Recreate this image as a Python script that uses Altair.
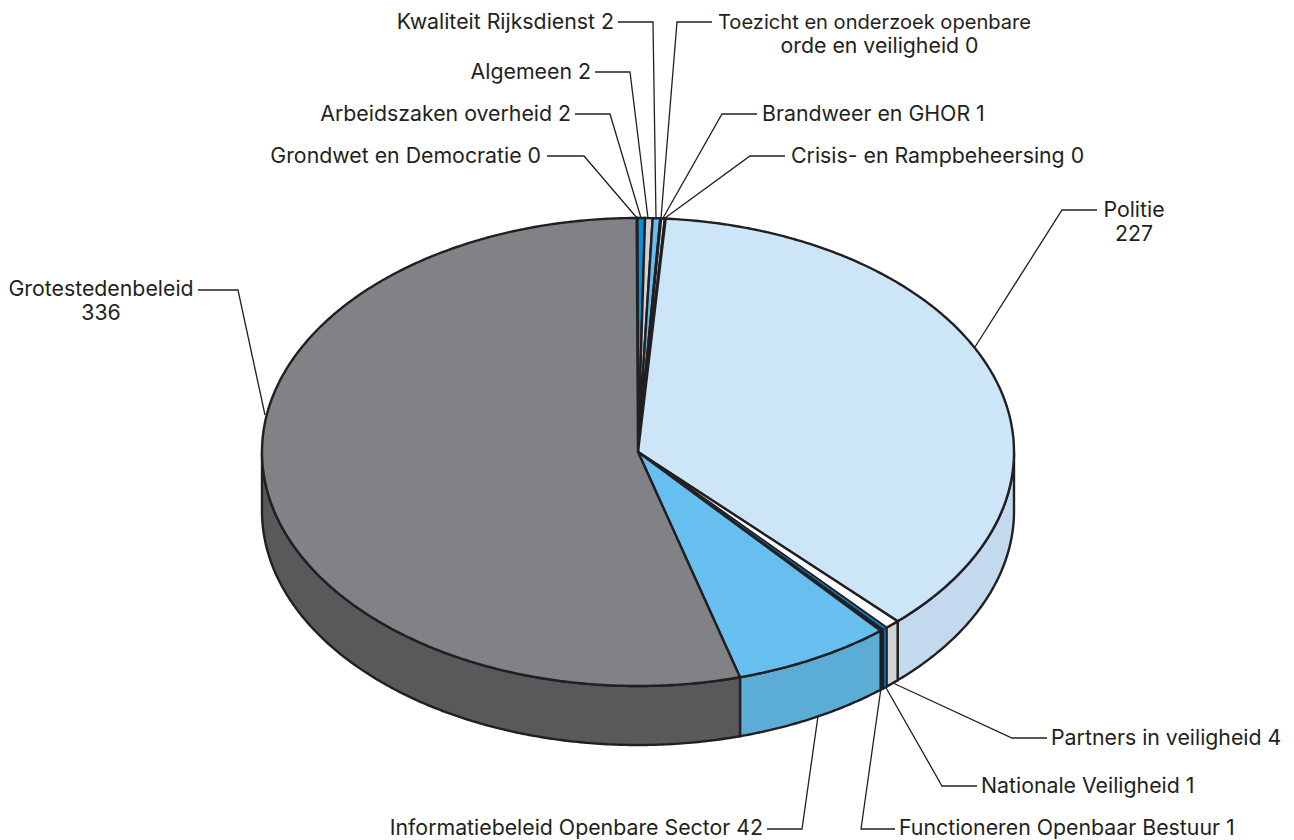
import math
import altair as alt
import pandas as pd

# --- chart values (clockwise from the top of the pie)
categories = ["Grondwet en Democratie", "Arbeidszaken overheid", "Algemeen", "Kwaliteit Rijksdienst",
              "Toezicht en onderzoek openbare orde en veiligheid", "Brandweer en GHOR",
              "Crisis- en Rampbeheersing", "Politie", "Partners in veiligheid", "Nationale Veiligheid",
              "Functioneren Openbaar Bestuur", "Informatiebeleid Openbare Sector", "Grotestedenbeleid"]
values = [0.2, 2, 2, 2, 0.2, 1, 0.2, 227, 4, 1, 1, 42, 336]
top_colours = ["#231F20", "#0A8FD6", "#D1D3D4", "#66BFEE", "#231F20", "#CCE6F8", "#231F20",
               "#CCE6F8", "#FFFFFF", "#0B77B5", "#231F20", "#66BFEE", "#808285"]
side_colours = ["#231F20", "#0A7DBB", "#B5B7B9", "#5BADD5", "#231F20", "#C3DAEE", "#231F20",
                "#C3DAEE", "#D1D3D4", "#0B6DA5", "#231F20", "#5BADD5", "#58595B"]

# --- label layout, in reference pixel units
label_lines = [["Grondwet en Democratie 0"], ["Arbeidszaken overheid 2"], ["Algemeen 2"], ["Kwaliteit Rijksdienst 2"],
               ["Toezicht en onderzoek openbare", "orde en veiligheid 0"], ["Brandweer en GHOR 1"],
               ["Crisis- en Rampbeheersing 0"], ["Politie", "227"], ["Partners in veiligheid 4"],
               ["Nationale Veiligheid 1"], ["Functioneren Openbaar Bestuur 1"],
               ["Informatiebeleid Openbare Sector 42"], ["Grotestedenbeleid", "336"]]
label_x = [541, 571, 591, 614, 874.5, 762, 791, 1134, 1051, 981, 899, 763, 101]
label_y = [157, 115, 73, 23, 23, 115, 157, 211, 739, 787, 829, 829, 290]
label_align = ["right", "right", "right", "right", "center", "left", "left", "center", "left", "left", "left", "right", "center"]
# the second line of the Toezicht label sits a little right of the first, and its first line runs narrow
second_line_shift = {4: 5}
line_font_size = {"Toezicht en onderzoek openbare": 20.1}
leader_x = [[547, 584, 637], [575, 610, 641], [595, 630, 648], [618, 653, 656], [712, 677, 661], [757, 722, 663],
            [785, 750, 665], [1097, 1062, 975], [1047, 1012, 893], [977, 942, 885], [895, 861, 881], [767, 802, 818],
            [198, 238, 265]]
leader_y = [[156, 156, 218], [114, 114, 218], [72, 72, 218], [22, 22, 218], [22, 22, 218], [114, 114, 218],
            [156, 156, 218], [210, 210, 347], [738, 738, 683], [786, 786, 686], [829, 829, 688], [829, 829, 716],
            [290, 290, 415]]

# --- projection of the pie
CX, CY, RX, RY, DEPTH = 638, 452, 376, 234, 59
START = -0.2
FONT = "Inter"
FONT_SIZE = 21.3
INK = "#231F20"
THIN = 9  # the one sliver whose colour still shows between the outlines


def pt(a, dy=0):
    r = math.radians(a)
    return CX + RX * math.sin(r), CY - RY * math.cos(r) + dy


def arc(a, b, dy=0):
    n = max(1, int(abs(b - a) / 0.5))
    return [pt(a + (b - a) * i / n, dy) for i in range(n + 1)]


tops, walls = [], []
total = sum(values)
a = START
for i, v in enumerate(values):
    b = a + v / total * 360
    ring = [(CX, CY)] + arc(a, b)
    for k, (x, y) in enumerate(ring):
        tops.append(dict(s=i, k=k, x=x, y=y, c=top_colours[i]))
    lo, hi = max(a, 90), min(b, 270)
    if hi > lo:
        ring = arc(lo, hi) + arc(hi, lo, DEPTH)
        for k, (x, y) in enumerate(ring):
            walls.append(dict(s=i, k=k, x=x, y=y, c=side_colours[i]))
    a = b

leaders = []
for i, (xs, ys) in enumerate(zip(leader_x, leader_y)):
    for k, (x, y) in enumerate(zip(xs, ys)):
        leaders.append(dict(s=i, k=k, x=x, y=y))

texts = []
for i, lines in enumerate(label_lines):
    for j, t in enumerate(lines):
        texts.append(dict(t=t, x=label_x[i] + (second_line_shift.get(i, 0) if j else 0),
                          y=label_y[i] + j * 24, al=label_align[i], fs=line_font_size.get(t, FONT_SIZE)))
texts = pd.DataFrame(texts)

X = alt.X("x:Q", scale=alt.Scale(domain=[8, 1286], nice=False, zero=False), axis=None)
Y = alt.Y("y:Q", scale=alt.Scale(domain=[844, 8], nice=False, zero=False), axis=None)


def polys(rows, sw=2.4):
    return alt.Chart(pd.DataFrame(rows)).mark_line(
        stroke=INK, strokeWidth=sw, interpolate="linear-closed", strokeJoin="miter", strokeMiterLimit=6
    ).encode(x=X, y=Y, order="k:Q", detail="s:N", fill=alt.Fill("c:N", scale=None))


lead = alt.Chart(pd.DataFrame(leaders)).mark_line(stroke=INK, strokeWidth=1.3).encode(
    x=X, y=Y, order="k:Q", detail="s:N")

thin = [r for r in walls if r["s"] == THIN]
thin_top = [r for r in tops if r["s"] == THIN]
layers = [polys(walls), polys(tops), polys(thin, 1.0), polys(thin_top, 1.0), lead]
for (al, fs), part in texts.groupby(["al", "fs"]):
    layers.append(alt.Chart(part).mark_text(
        font=FONT, fontSize=fs, color=INK, align=al, baseline="middle").encode(x=X, y=Y, text="t:N"))

chart = alt.layer(*layers).properties(width=1278, height=836, padding=0, autosize=alt.AutoSizeParams(type="none")
                                      ).configure_view(stroke=None)
chart.save("out.html", embed_options={"renderer": "svg", "actions": False})
